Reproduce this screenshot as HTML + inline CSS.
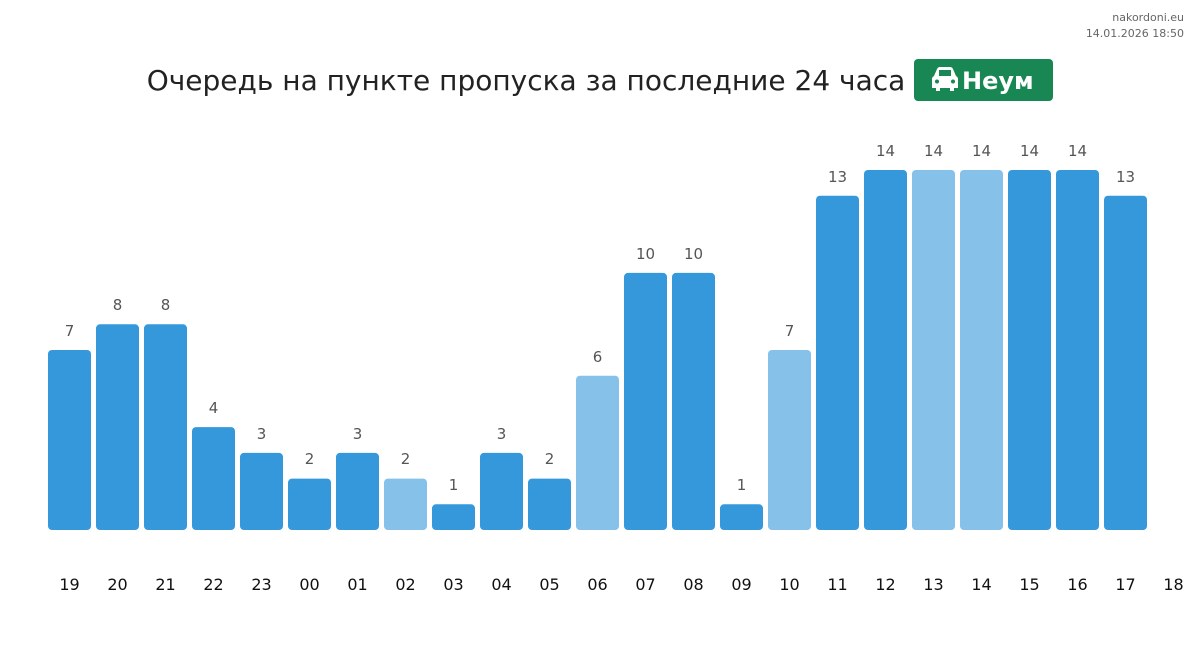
<!DOCTYPE html><html><head><meta charset="utf-8"><style>body{margin:0;background:#fff;width:1200px;height:651px;overflow:hidden;font-family:"DejaVu Sans","Liberation Sans",sans-serif}</style></head><body>
<svg width="1200" height="651" xmlns="http://www.w3.org/2000/svg" font-family="DejaVu Sans, Liberation Sans, sans-serif">
<text x="1184" y="21" font-size="11" fill="#666" text-anchor="end">nakordoni.eu</text>
<text x="1184" y="37" font-size="11" fill="#666" text-anchor="end">14.01.2026 18:50</text>
<text x="526" y="90" font-size="28" fill="#222" text-anchor="middle">Очередь на пункте пропуска за последние 24 часа</text>
<rect x="914" y="59" width="139" height="42" rx="4" fill="#198754"/>
<path d="M934 76 L937 69 Q938 67 940 67 L950 67 Q952 67 953 69 L956 76 Q958 77 958 79 L958 88 L954 88 L954 91 L950 91 L950 88 L940 88 L940 91 L936 91 L936 88 L932 88 L932 79 Q932 77 934 76 Z" fill="#fff"/>
<rect x="939" y="70" width="12" height="6" fill="#198754"/>
<circle cx="937" cy="81.5" r="2" fill="#198754"/><circle cx="953" cy="81.5" r="2" fill="#198754"/>
<text x="962" y="89" font-size="24" font-weight="bold" fill="#fff">Неум</text>
<g fill="#3498db">
<rect x="48" y="350" width="43" height="180" rx="4"/>
<rect x="96" y="324.3" width="43" height="205.7" rx="4"/>
<rect x="144" y="324.3" width="43" height="205.7" rx="4"/>
<rect x="192" y="427.1" width="43" height="102.9" rx="4"/>
<rect x="240" y="452.9" width="43" height="77.1" rx="4"/>
<rect x="288" y="478.6" width="43" height="51.4" rx="4"/>
<rect x="336" y="452.9" width="43" height="77.1" rx="4"/>
<rect x="384" y="478.6" width="43" height="51.4" rx="4" fill="#85c1e9"/>
<rect x="432" y="504.3" width="43" height="25.7" rx="4"/>
<rect x="480" y="452.9" width="43" height="77.1" rx="4"/>
<rect x="528" y="478.6" width="43" height="51.4" rx="4"/>
<rect x="576" y="375.7" width="43" height="154.3" rx="4" fill="#85c1e9"/>
<rect x="624" y="272.9" width="43" height="257.1" rx="4"/>
<rect x="672" y="272.9" width="43" height="257.1" rx="4"/>
<rect x="720" y="504.3" width="43" height="25.7" rx="4"/>
<rect x="768" y="350" width="43" height="180" rx="4" fill="#85c1e9"/>
<rect x="816" y="195.7" width="43" height="334.3" rx="4"/>
<rect x="864" y="170" width="43" height="360" rx="4"/>
<rect x="912" y="170" width="43" height="360" rx="4" fill="#85c1e9"/>
<rect x="960" y="170" width="43" height="360" rx="4" fill="#85c1e9"/>
<rect x="1008" y="170" width="43" height="360" rx="4"/>
<rect x="1056" y="170" width="43" height="360" rx="4"/>
<rect x="1104" y="195.7" width="43" height="334.3" rx="4"/>
</g>
<g font-size="15" fill="#555" text-anchor="middle">
<text x="69.5" y="336">7</text>
<text x="117.5" y="310">8</text>
<text x="165.5" y="310">8</text>
<text x="213.5" y="413">4</text>
<text x="261.5" y="439">3</text>
<text x="309.5" y="464">2</text>
<text x="357.5" y="439">3</text>
<text x="405.5" y="464">2</text>
<text x="453.5" y="490">1</text>
<text x="501.5" y="439">3</text>
<text x="549.5" y="464">2</text>
<text x="597.5" y="362">6</text>
<text x="645.5" y="259">10</text>
<text x="693.5" y="259">10</text>
<text x="741.5" y="490">1</text>
<text x="789.5" y="336">7</text>
<text x="837.5" y="182">13</text>
<text x="885.5" y="156">14</text>
<text x="933.5" y="156">14</text>
<text x="981.5" y="156">14</text>
<text x="1029.5" y="156">14</text>
<text x="1077.5" y="156">14</text>
<text x="1125.5" y="182">13</text>
</g>
<g font-size="16" fill="#111" text-anchor="middle">
<text x="69.5" y="590">19</text><text x="117.5" y="590">20</text><text x="165.5" y="590">21</text><text x="213.5" y="590">22</text><text x="261.5" y="590">23</text><text x="309.5" y="590">00</text><text x="357.5" y="590">01</text><text x="405.5" y="590">02</text><text x="453.5" y="590">03</text><text x="501.5" y="590">04</text><text x="549.5" y="590">05</text><text x="597.5" y="590">06</text><text x="645.5" y="590">07</text><text x="693.5" y="590">08</text><text x="741.5" y="590">09</text><text x="789.5" y="590">10</text><text x="837.5" y="590">11</text><text x="885.5" y="590">12</text><text x="933.5" y="590">13</text><text x="981.5" y="590">14</text><text x="1029.5" y="590">15</text><text x="1077.5" y="590">16</text><text x="1125.5" y="590">17</text><text x="1173.5" y="590">18</text>
</g>
</svg></body></html>
